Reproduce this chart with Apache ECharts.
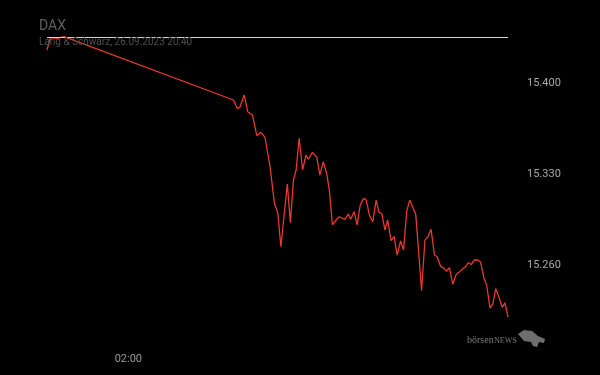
<!DOCTYPE html>
<html lang="de">

<head>
    <meta charset="UTF-8">
    <title>DAX</title>
    <script src="https://cdn.jsdelivr.net/npm/echarts@6/dist/echarts.min.js"></script>
    <style>
        html, body { margin: 0; padding: 0; background: #000; }
    </style>
</head>

<body>
    <div id="main" style="width: 600px;height:375px;"></div>

    <script>
        // Abend 25.09.
        let eveningTimes = ['22:00', '22:10', '22:30', '22:50'];
        let eveningValues = [15425.6, 15435.0, 15434.5, 15435.8];

        // Handelstag 26.09.
        let dayTimes = [
            '07:10', '07:21', '07:29', '07:42', '07:52', '08:06', '08:19', '08:31', '08:43', '08:58',
            '09:11', '09:21', '09:30', '09:49', '09:58', '10:07', '10:15', '10:24', '10:34', '10:44',
            '10:51', '11:03', '11:16', '11:25', '11:35', '11:45', '11:53', '12:02', '12:13', '12:22',
            '12:39', '12:49', '12:56', '13:06', '13:15', '13:24', '13:34', '13:42', '13:51', '14:01',
            '14:11', '14:19', '14:28', '14:37', '14:45', '14:55', '15:04', '15:13', '15:23', '15:32',
            '15:41', '15:50', '16:08', '16:25', '16:35', '16:44', '16:53', '17:03', '17:11', '17:21',
            '17:31', '17:39', '17:47', '17:57', '18:07', '18:17', '18:27', '18:37', '18:43', '18:51',
            '19:01', '19:11', '19:19', '19:29', '19:37', '19:47', '19:55', '20:04', '20:13', '20:23',
            '20:31', '20:40'
        ];
        let dayValues = [
            15387.2, 15380.8, 15381.6, 15391.0, 15378.2, 15375.7, 15359.8, 15362.4, 15358.6, 15336.0,
            15307.9, 15300.2, 15274.6, 15322.7, 15293.0, 15325.8, 15333.5, 15357.8, 15333.5, 15345.0,
            15341.7, 15347.0, 15343.2, 15329.6, 15339.8, 15330.9, 15318.1, 15291.3, 15295.1, 15297.6,
            15295.6, 15299.7, 15295.6, 15301.5, 15291.3, 15306.6, 15311.7, 15310.4, 15298.9, 15293.8,
            15310.4, 15301.2, 15299.7, 15287.4, 15295.1, 15279.2, 15282.4, 15268.2, 15279.0, 15272.1,
            15301.5, 15310.4, 15299.3, 15240.8, 15279.7, 15282.4, 15288.0, 15268.2, 15266.9, 15259.6,
            15258.0, 15255.8, 15258.6, 15245.8, 15253.3, 15255.4, 15257.7, 15259.8, 15262.5, 15260.9,
            15264.4, 15264.4, 15262.9, 15250.6, 15245.2, 15227.5, 15230.6, 15242.4, 15236.0, 15228.1,
            15231.6, 15220.6
        ];

        let prevClose = 15435.5;
        let yTicks = [15260, 15330, 15400];
        let xTicks = ['02:00'];

        // Minuten seit 25.09. 22:00
        function toMin(t, day) {
            let p = t.split(':');
            return day * 1440 + Number(p[0]) * 60 + Number(p[1]) - 22 * 60;
        }
        function fmtTime(m) {
            let total = (m + 22 * 60) % 1440;
            let h = Math.floor(total / 60);
            let mm = total % 60;
            return (h < 10 ? '0' : '') + h + ':' + (mm < 10 ? '0' : '') + mm;
        }

        let data = [];
        for (let i = 0; i < eveningTimes.length; i++) {
            data.push([toMin(eveningTimes[i], 0), eveningValues[i]]);
        }
        for (let i = 0; i < dayTimes.length; i++) {
            data.push([toMin(dayTimes[i], 1), dayValues[i]]);
        }

        var myChart = echarts.init(document.getElementById('main'));

        var option = {
            backgroundColor: '#000',
            animation: false,
            title: {
                text: 'DAX',
                subtext: 'Lang & Schwarz, 26.09.2023 20:40',
                left: 34,
                top: 14,
                itemGap: 4,
                textStyle: { color: '#5e5e5e', fontSize: 14, fontWeight: 'normal', fontFamily: 'Roboto' },
                subtextStyle: { color: '#4e4e4e', fontSize: 10, fontFamily: 'Roboto' }
            },
            grid: { left: 47, right: 92, top: 31.2, bottom: 37.6 },
            xAxis: {
                type: 'value',
                min: 0,
                max: toMin('20:40', 1),
                axisLine: { show: false },
                axisTick: { show: false },
                splitLine: { show: false },
                axisLabel: {
                    customValues: xTicks.map(function (t) { return toMin(t, 1); }),
                    formatter: function (v) { return fmtTime(v); },
                    color: '#9a9a9a',
                    fontSize: 11,
                    fontFamily: 'Roboto',
                    margin: 16
                }
            },
            yAxis: {
                type: 'value',
                position: 'right',
                min: 15205,
                max: 15440,
                axisLine: { show: false },
                axisTick: { show: false },
                splitLine: { show: false },
                axisLabel: {
                    customValues: yTicks,
                    formatter: function (v) { return (v / 1000).toFixed(3); },
                    color: '#a8a8a8',
                    fontSize: 11,
                    fontFamily: 'Roboto',
                    margin: 19
                }
            },
            series: [
                {
                    type: 'line',
                    data: data,
                    symbol: 'none',
                    lineStyle: { color: '#e8392c', width: 1.3 },
                    markLine: {
                        silent: true,
                        symbol: 'none',
                        label: { show: false },
                        lineStyle: { color: '#d6d6d6', width: 1, type: 'solid' },
                        data: [{ yAxis: prevClose }]
                    }
                }
            ],
            graphic: [
                {
                    type: 'text',
                    left: 467,
                    top: 335,
                    style: {
                        text: 'börsen',
                        fill: '#7a7a7a',
                        font: '10px "Liberation Serif"'
                    }
                },
                {
                    type: 'text',
                    left: 494,
                    top: 337,
                    style: {
                        text: 'NEWS',
                        fill: '#7a7a7a',
                        font: '8px "Liberation Serif"'
                    }
                },
                {
                    type: 'polygon',
                    shape: {
                        points: [[518, 334], [524, 330], [532, 331], [538, 336], [545, 339], [544, 343],
                            [539, 342], [537, 347], [533, 346], [531, 342], [524, 341]]
                    },
                    style: { fill: '#6e6e6e' }
                }
            ]
        };

        myChart.setOption(option);
    </script>
</body>

</html>
